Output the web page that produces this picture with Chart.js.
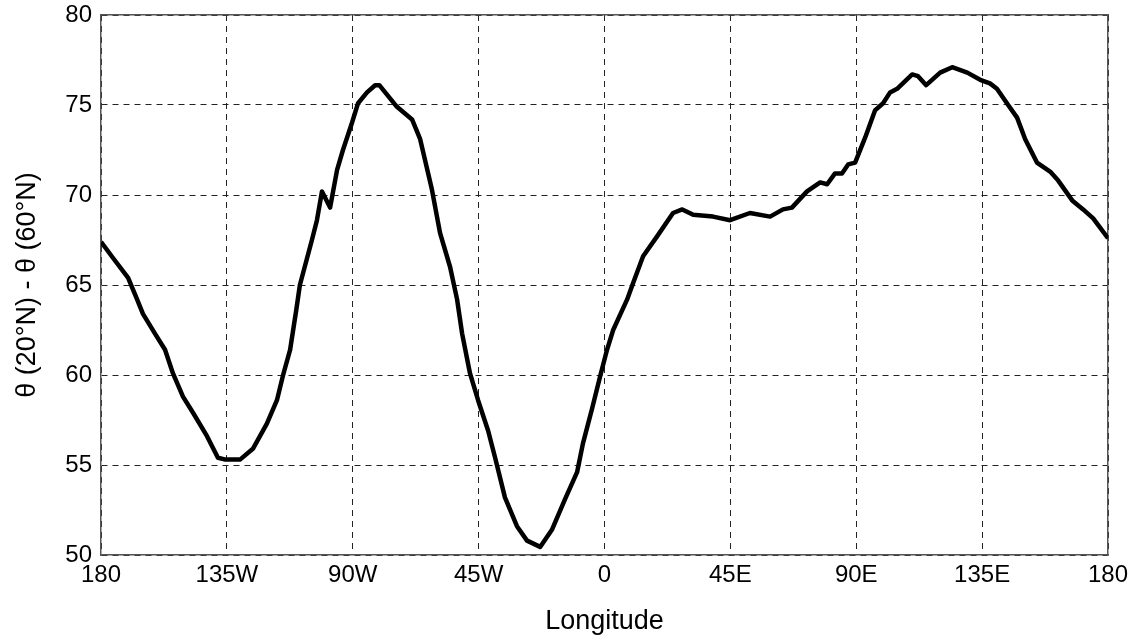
<!DOCTYPE html>
<html><head><meta charset="utf-8">
<script src="https://cdn.jsdelivr.net/npm/chart.js@4"></script>
<style>html,body{margin:0;padding:0;background:#fff}canvas{display:block}</style>
</head><body>
<canvas id="c" width="1138" height="640"></canvas>
<script>
const lonTickLabels = ['180','135W','90W','45W','0','45E','90E','135E','180'];
const longitudes = [-180,-175.7,-170.3,-167.1,-165.0,-160.7,-157.1,-154.3,-150.7,-147.1,-142.1,-138.2,-135.5,-130.3,-125.7,-120.7,-117.1,-114.9,-112.4,-110.2,-108.9,-104.6,-102.8,-101.0,-98.1,-95.6,-93.5,-90.3,-88.1,-84.9,-82.0,-80.5,-74.2,-68.8,-65.9,-61.7,-58.8,-55.2,-52.7,-50.9,-48.1,-45.2,-41.6,-39.1,-35.6,-31.3,-27.7,-23.0,-18.8,-14.1,-9.8,-7.7,-4.5,-1.6,0.9,3.1,8.1,10.2,13.8,18.8,24.5,27.8,31.7,38.8,44.9,52.0,59.2,63.8,67.0,72.4,77.1,79.6,82.4,84.9,87.1,89.6,93.2,96.7,99.6,102.1,104.6,110.0,112.1,115.0,120.0,124.3,129.7,134.3,137.8,140.3,144.3,147.5,150.4,154.6,159.3,162.2,167.2,171.1,174.7,180];
const thetaDiff = [67.4,66.5,65.4,64.2,63.4,62.3,61.4,60.1,58.8,57.9,56.6,55.4,55.3,55.3,55.9,57.3,58.6,60.0,61.4,63.6,65.0,67.5,68.6,70.2,69.3,71.4,72.5,74.0,75.1,75.7,76.1,76.1,74.9,74.2,73.1,70.3,67.9,66.0,64.2,62.3,60.1,58.6,56.9,55.4,53.2,51.6,50.8,50.45,51.4,53.1,54.6,56.2,58.1,59.9,61.4,62.5,64.2,65.1,66.6,67.7,69.0,69.2,68.9,68.8,68.6,69.0,68.8,69.2,69.3,70.2,70.7,70.6,71.2,71.2,71.7,71.8,73.2,74.7,75.1,75.7,75.9,76.7,76.6,76.1,76.8,77.1,76.8,76.4,76.2,75.9,75.0,74.3,73.1,71.8,71.3,70.8,69.7,69.2,68.7,67.6];
const yTitle = 'θ (20°N) - θ (60°N)';
const xTitle = 'Longitude';

const FONT = '"Liberation Sans", Arial, Helvetica, sans-serif';
const points = longitudes.map((x, i) => ({x: x, y: thetaDiff[i]}));
const gridOpts = {color: '#222', lineWidth: 1, drawTicks: false};
const borderOpts = {display: true, color: '#555', width: 1.5, dash: [6, 5]};

new Chart(document.getElementById('c'), {
  type: 'line',
  data: {datasets: [{data: points, borderColor: '#000', borderWidth: 4.5, pointRadius: 0, tension: 0, fill: false, borderJoinStyle: 'round'}]},
  options: {
    responsive: false, animation: false, devicePixelRatio: 1,
    layout: {padding: {left: 11, right: 30, top: 15, bottom: 2}},
    plugins: {legend: {display: false}, tooltip: {enabled: false}},
    scales: {
      x: {
        type: 'linear', position: 'bottom', min: -180, max: 180,
        ticks: {stepSize: 45, autoSkip: false, maxRotation: 0, padding: 6, color: '#000', font: {family: FONT, size: 24},
          callback: v => lonTickLabels[Math.round((v + 180) / 45)]},
        grid: gridOpts, border: borderOpts,
        title: {display: true, text: xTitle, color: '#000', font: {family: FONT, size: 27}, padding: 0},
        afterFit: s => { s.height = 83; }
      },
      y: {
        type: 'linear', position: 'left', min: 50, max: 80,
        ticks: {stepSize: 5, padding: 9, color: '#000', font: {family: FONT, size: 24, lineHeight: 0.5}},
        grid: gridOpts, border: borderOpts,
        title: {display: true, text: yTitle, color: '#000', font: {family: FONT, size: 27}, padding: 0},
        afterFit: s => { s.width = 90; }
      },
      x2: {
        type: 'linear', position: 'top', min: -180, max: 180,
        ticks: {display: false}, grid: {display: false, drawTicks: false},
        border: {display: true, color: '#555', width: 1.5},
        afterFit: s => { s.height = 0; }
      },
      y2: {
        type: 'linear', position: 'right', min: 50, max: 80,
        ticks: {display: false}, grid: {display: false, drawTicks: false},
        border: {display: true, color: '#555', width: 1.5},
        afterFit: s => { s.width = 0; }
      }
    }
  }
});
</script>
</body></html>
